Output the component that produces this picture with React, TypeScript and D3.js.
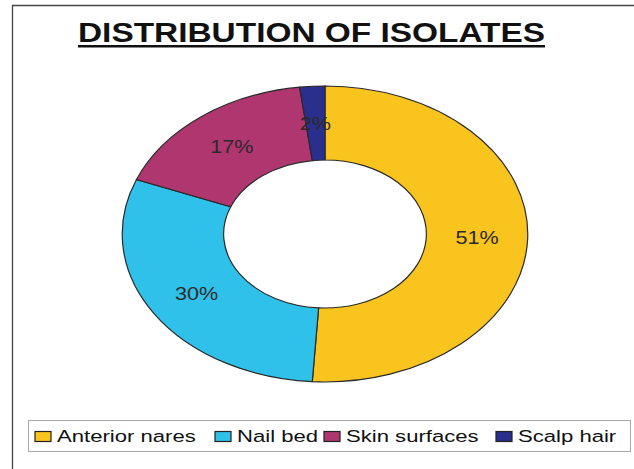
import { useEffect, useRef } from "react";
import * as d3 from "d3";

const categories = ["Anterior nares", "Nail bed", "Skin surfaces", "Scalp hair"];
const values = [51, 30, 17, 2];
const colors = ["#FAC41E", "#2FC1E9", "#B0366F", "#2A2E8C"];

const App = () => {
    const ref = useRef<HTMLDivElement>(null);

    useEffect(() => {
        const width = 634;
        const height = 469;
        const cx = 325;
        const cy = 234;
        const outerR = 148;
        const innerR = 74;
        const stretchX = 1.37; // the donut is an ellipse in the reference
        const font = "Liberation Sans, Arial, sans-serif";

        const svg = d3
            .create("svg")
            .attr("width", width)
            .attr("height", height)
            .attr("viewBox", [0, 0, width, height])
            .attr("style", "position:absolute;left:0;top:0;background:#fff;");

        // frame lines (top and left only, the rest is cut off)
        svg.append("path")
            .attr("d", `M12.5,${height} V5.5 H${width}`)
            .attr("fill", "none")
            .attr("stroke", "#444")
            .attr("stroke-width", 1.3);

        // title, stretched wide like the reference
        svg.append("text")
            .attr("x", 78)
            .attr("y", 42)
            .attr("textLength", 467)
            .attr("lengthAdjust", "spacingAndGlyphs")
            .attr("font-family", font)
            .attr("font-weight", "bold")
            .attr("font-size", 27)
            .attr("fill", "#111")
            .text("DISTRIBUTION OF ISOLATES");
        svg.append("rect")
            .attr("x", 78)
            .attr("y", 45)
            .attr("width", 467)
            .attr("height", 2.5)
            .attr("fill", "#111");

        const pie = d3.pie<number>().sort(null).value((d) => d);
        const arcs = pie(values);
        const arc = d3.arc<d3.PieArcDatum<number>>().innerRadius(innerR).outerRadius(outerR);

        const g = svg.append("g").attr("transform", `translate(${cx},${cy})`);

        g.append("g")
            .attr("transform", `scale(${stretchX},1)`)
            .selectAll("path")
            .data(arcs)
            .join("path")
            .attr("d", arc)
            .attr("fill", (d, i) => colors[i])
            .attr("stroke", "#2a2a2a")
            .attr("stroke-width", 1.2)
            .attr("vector-effect", "non-scaling-stroke");

        const total = d3.sum(values);
        g.selectAll("text")
            .data(arcs)
            .join("text")
            .attr("transform", (d) => {
                const [x, y] = arc.centroid(d);
                return `translate(${x * stretchX},${y}) scale(1.2,1)`;
            })
            .attr("dy", "0.35em")
            .attr("text-anchor", "middle")
            .attr("font-family", font)
            .attr("font-size", 18)
            .attr("fill", "#2a2a2a")
            .text((d) => `${Math.round((d.value / total) * 100)}%`);

        // legend
        const legend = svg.append("g");
        legend.append("rect")
            .attr("x", 28.5)
            .attr("y", 420.5)
            .attr("width", 602)
            .attr("height", 31)
            .attr("fill", "#fff")
            .attr("stroke", "#aaa");

        const itemX = [35, 215, 324, 496];
        const items = legend.selectAll("g.item")
            .data(categories)
            .join("g")
            .attr("class", "item")
            .attr("transform", (d, i) => `translate(${itemX[i]},431.5)`);
        items.append("rect")
            .attr("width", 16)
            .attr("height", 10)
            .attr("fill", (d, i) => colors[i])
            .attr("stroke", "#222")
            .attr("stroke-width", 1.2);
        items.append("text")
            .attr("transform", "translate(22,10) scale(1.3,1)")
            .attr("font-family", font)
            .attr("font-size", 17)
            .attr("fill", "#111")
            .text((d) => d);

        ref.current!.innerHTML = "";
        ref.current!.appendChild(svg.node()!);
    }, []);

    return <div ref={ref}></div>;
};

export default App;
